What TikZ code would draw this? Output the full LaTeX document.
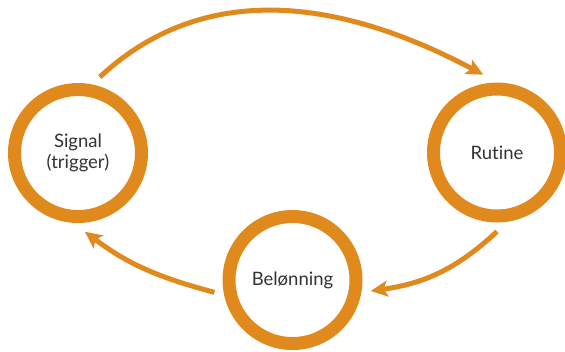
\documentclass[tikz,border=0pt]{standalone}
\usepackage{fontspec}
\setmainfont{Lato}[Ligatures=NoCommon]
\usetikzlibrary{arrows.meta}
\definecolor{habit}{RGB}{224,138,30}
\definecolor{textgray}{RGB}{50,50,50}
\tikzset{
    stage/.style={circle, draw=habit, line width=13bp, minimum size=127bp, inner sep=0pt,
        outer sep=15.5bp, text=textgray, align=center, font=\fontsize{18.5bp}{21bp}\selectfont},
    habitarrow/.style={-{Stealth[length=17bp, width=16bp, inset=4bp]}, line width=5bp, habit}
}

\begin{document}
\begin{tikzpicture}[x=1bp, y=-1bp]
    \useasboundingbox (0,0) rectangle (565,351);
    % Tre trinn i vanesløyfen
    \node[stage] (signal) at (78,153) {Signal\\(trigger)};
    \node[stage] (rutine) at (497,152.5) {Rutine};
    \node[stage] (belonning) at (292.5,280) {Belønning};

    % Piler rundt sløyfen
    \draw[habitarrow] (signal.74) to[out=43, in=152] (rutine.100);
    \draw[habitarrow] (rutine.270) to[out=223, in=8] (belonning.-8.5);
    \draw[habitarrow] (belonning.189) to[out=165, in=-37] (signal.275);
\end{tikzpicture}
\end{document}
